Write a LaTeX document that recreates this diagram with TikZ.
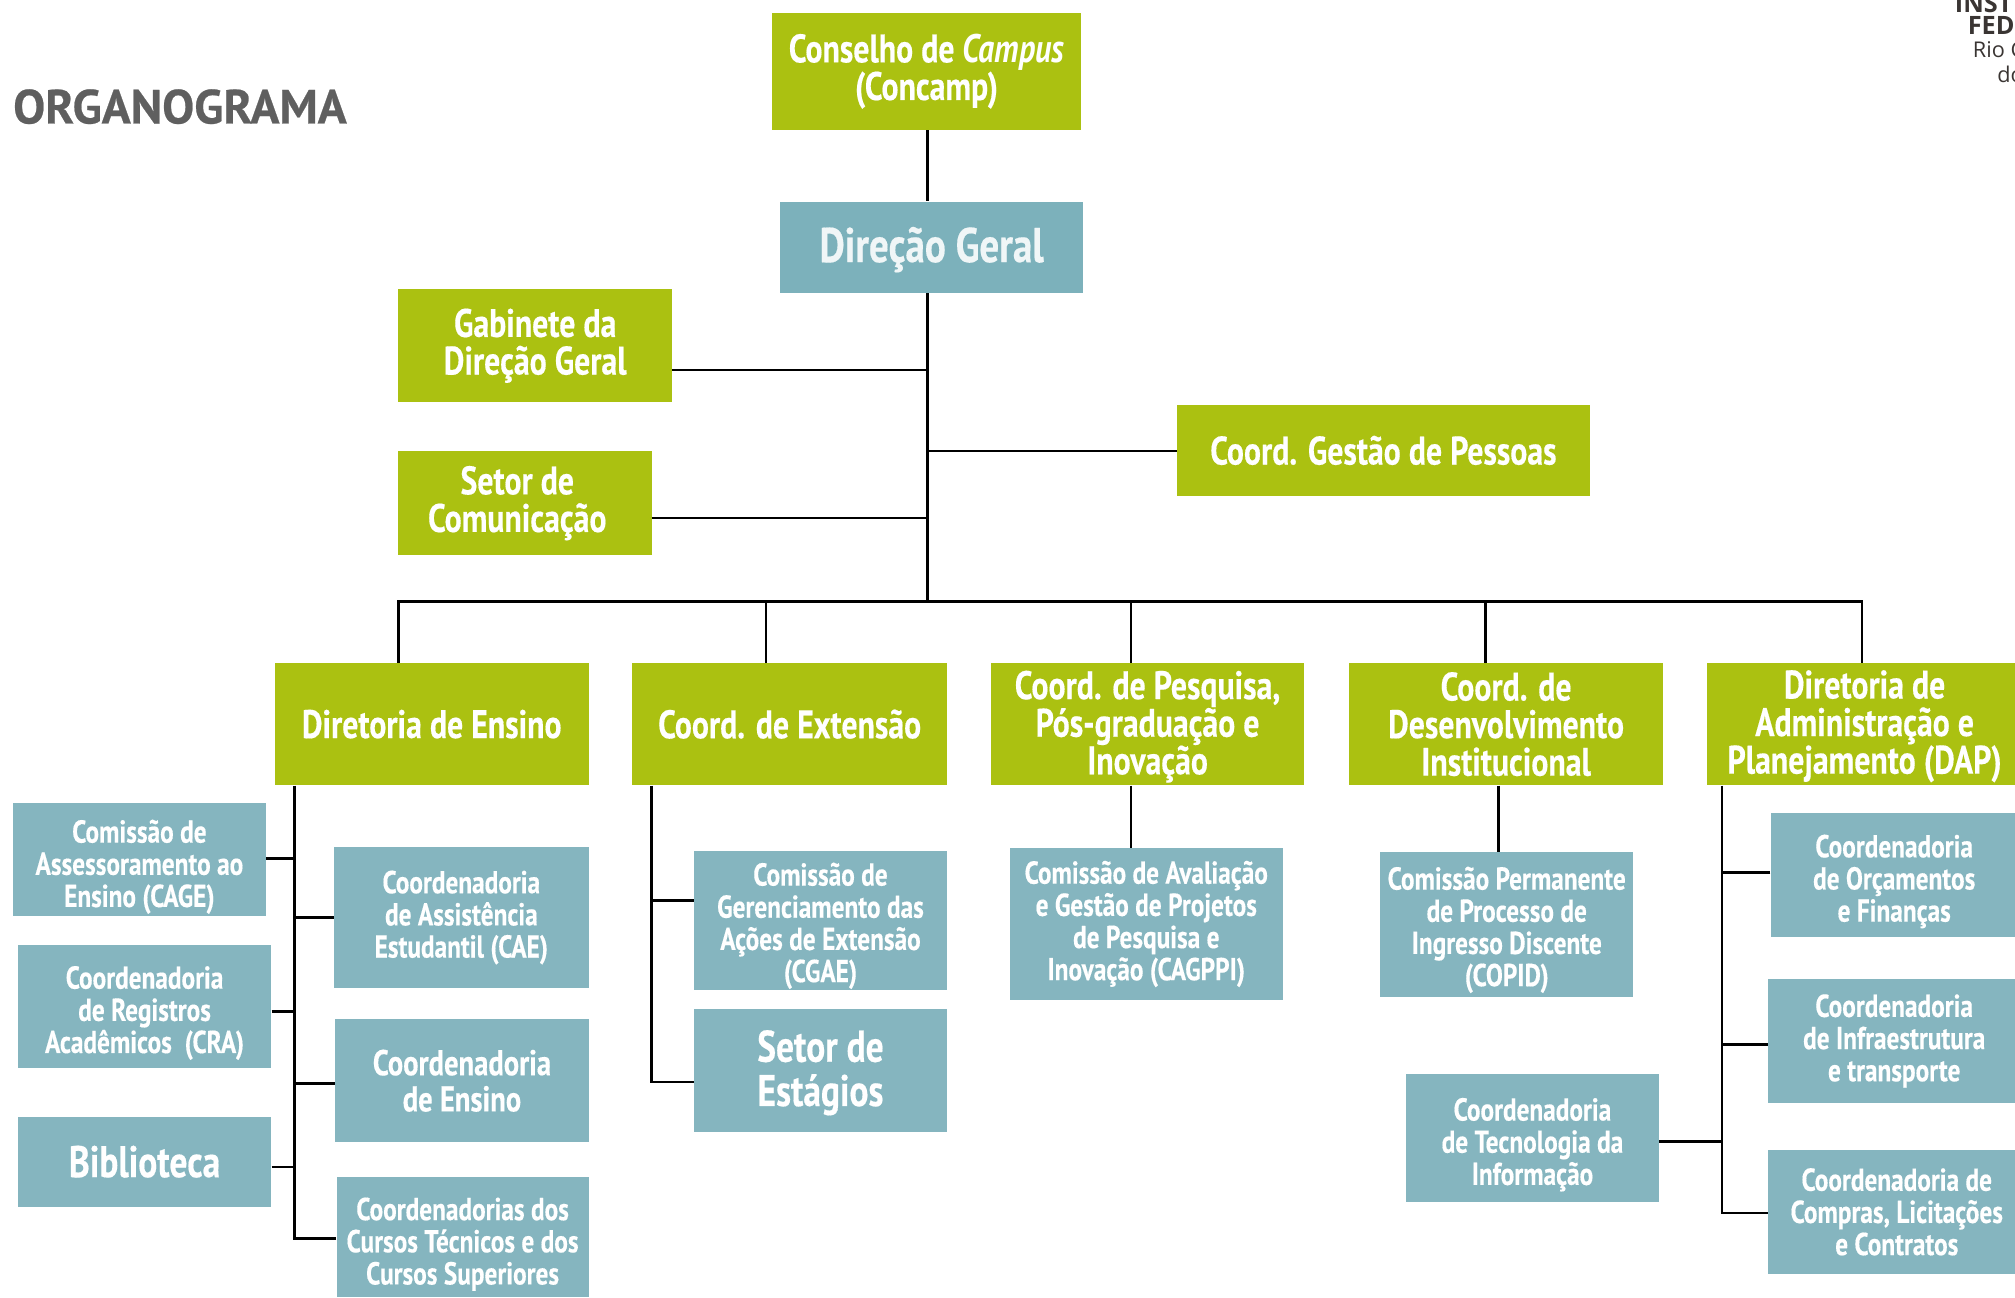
\documentclass[tikz,border=0pt]{standalone}
\usepackage{fontspec}
\setmainfont[FakeStretch=0.8, BoldFeatures={FakeBold=0.35}]{PT Sans}
\newfontfamily\titlefont[BoldFeatures={FakeBold=0.5}]{PT Sans}
\newfontfamily\logofont{Open Sans}
\definecolor{orgGreen}{HTML}{ABC111}
\definecolor{orgBlue}{HTML}{85B5BF}
\definecolor{orgBlueDark}{HTML}{7CB1BB}
\definecolor{orgGray}{HTML}{5F5F5F}
\definecolor{orgInk}{HTML}{3A3533}
\newcommand{\lowline}[1]{\rule{0pt}{#1}}
\tikzset{
    boxsize/.style 2 args={minimum width=#1*0.025cm, minimum height=#2*0.025cm},
    orgbox/.style={rectangle, inner sep=0pt, align=center, text=white, font=\bfseries},
    greenbox/.style={orgbox, fill=orgGreen, font=\bfseries\fontsize{22}{20.8}\selectfont},
    bluebox/.style={orgbox, fill=orgBlue, font=\bfseries\fontsize{17.5}{17.8}\selectfont},
    midtext/.style={font=\bfseries\fontsize{19.8}{20}\selectfont},
    bigtext/.style={font=\bfseries\fontsize{24.5}{24.5}\selectfont},
    logotext/.style={anchor=west, text=orgInk, inner sep=0pt},
    link/.style={black, line width=1.5pt},
}
\begin{document}
\begin{tikzpicture}[x=0.025cm, y=-0.025cm]
            \useasboundingbox (0, 0) rectangle (1568, 1009.3);
            \node [anchor=west, inner sep=0pt, text=orgGray, font=\titlefont\bfseries\fontsize{26.5}{27}\selectfont] (titulo) at (10, 83) {ORGANOGRAMA};
            \node [logotext, font=\logofont\bfseries\fontsize{14}{14}\selectfont] (logoa) at (1521, 3) {INST};
            \node [logotext, font=\logofont\bfseries\fontsize{14}{14}\selectfont] (logob) at (1531, 20) {FED};
            \node [logotext, font=\logofont\fontsize{12}{12}\selectfont] (logoc) at (1535, 39) {Rio G};
            \node [logotext, font=\logofont\fontsize{12}{12}\selectfont] (logod) at (1554, 58) {do};

            \node [greenbox, boxsize={240}{91}] (conselho) at (721, 55.5) {Conselho de \textit{Campus}\\(Concamp)};
            \node [orgbox, fill=orgBlueDark, boxsize={236}{71}, text=white!88!orgBlue, font=\bfseries\fontsize{27}{27}\selectfont, execute at begin node={\lowline{22pt}}] (direcao) at (725, 192.5) {Direção Geral};
            \node [greenbox, boxsize={213}{88}] (gabinete) at (416.5, 269) {Gabinete da\\Direção Geral};
            \node [greenbox, boxsize={197}{81}] (comunicacao) at (408.5, 391.5) {Setor de\hspace*{8.5pt}\\Comunicação\hspace*{8.5pt}};
            \node [greenbox, boxsize={321}{71}] (pessoas) at (1076.5, 350.5) {Coord. Gestão de Pessoas};

            \node [greenbox, boxsize={244}{95}] (ensino) at (336, 563.5) {Diretoria de Ensino};
            \node [greenbox, boxsize={245}{95}] (extensao) at (614.5, 563.5) {Coord. de Extensão};
            \node [greenbox, boxsize={244}{95}] (pesquisa) at (893, 563.5) {\lowline{18.5pt}Coord. de Pesquisa,\\Pós-graduação e\\Inovação};
            \node [greenbox, boxsize={244}{95}] (desenv) at (1172, 563.5) {Coord. de\\Desenvolvimento\\Institucional};
            \node [greenbox, boxsize={246}{95}] (dap) at (1451, 563.5) {\lowline{18pt}Diretoria de\\Administração e\\Planejamento (DAP)};

            \node [bluebox, boxsize={197}{88}] (cage) at (108.5, 669) {\lowline{20.5pt}Comissão de\\Assessoramento ao\\Ensino (CAGE)};
            \node [bluebox, boxsize={197}{96}] (cra) at (112.5, 783) {\lowline{20pt}Coordenadoria\\de Registros\\Acadêmicos\ \ (CRA)};
            \node [bluebox, bigtext, boxsize={197}{70}] (biblioteca) at (112.5, 904) {Biblioteca};
            \node [bluebox, boxsize={198}{110}] (cae) at (359, 714) {Coordenadoria\\de Assistência\\Estudantil (CAE)};
            \node [bluebox, midtext, boxsize={197}{96}] (coordensino) at (359.5, 841) {Coordenadoria\\de Ensino};
            \node [bluebox, boxsize={196}{93}] (cursos) at (360, 962.5) {\lowline{20.5pt}Coordenadorias dos\\Cursos Técnicos e dos\\Cursos Superiores};

            \node [bluebox, boxsize={197}{108}] (cgae) at (638.5, 716) {\lowline{19pt}Comissão de\\Gerenciamento das\\Ações de Extensão\\(CGAE)};
            \node [bluebox, bigtext, boxsize={197}{96}] (estagios) at (638.5, 833) {\lowline{20pt}Setor de\\Estágios};
            \node [bluebox, boxsize={212}{118}] (cagppi) at (892, 719) {Comissão de Avaliação\\e Gestão de Projetos\\de Pesquisa e\\Inovação (CAGPPI)};
            \node [bluebox, boxsize={197}{113}] (copid) at (1172.5, 719.5) {\lowline{18.5pt}Comissão Permanente\\de Processo de\\Ingresso Discente\\(COPID)};
            \node [bluebox, boxsize={197}{99}] (cti) at (1192.5, 885.5) {\lowline{20pt}Coordenadoria\\de Tecnologia da\\Informação};
            \node [bluebox, boxsize={192}{96}] (orcamentos) at (1474, 681) {\lowline{19.5pt}Coordenadoria\\de Orçamentos\\e Finanças};
            \node [bluebox, boxsize={196}{96}] (infra) at (1474, 810) {Coordenadoria\\de Infraestrutura\\e transporte};
            \node [bluebox, boxsize={200}{96}] (compras) at (1476, 943) {Coordenadoria de\\Compras, Licitações\\e Contratos};

            \coordinate (hub) at (722, 468);
            \coordinate (gabjoin) at (722, 288);
            \coordinate (pesjoin) at (722, 351);
            \coordinate (comjoin) at (722, 403);
            \coordinate (busensino) at (310, 468);
            \coordinate (busextensao) at (596, 468);
            \coordinate (buspesquisa) at (880, 468);
            \coordinate (busdesenv) at (1156, 468);
            \coordinate (busdap) at (1449, 468);
            \coordinate (stemensino) at (229, 964);
            \coordinate (stemextensao) at (507, 842);
            \coordinate (stemdap) at (1340, 944);

            \draw [link] (conselho.south -| hub) -- (direcao.north -| hub);
            \draw [link] (direcao.south -| hub) -- (hub);
            \draw [link] (gabinete.east |- gabjoin) -- (gabjoin);
            \draw [link] (pessoas.west |- pesjoin) -- (pesjoin);
            \draw [link] (comunicacao.east |- comjoin) -- (comjoin);
            \draw [link, line cap=rect] (busensino) -- (busdap);
            \draw [link] (busensino) -- (busensino |- ensino.north);
            \draw [link] (busextensao) -- (busextensao |- extensao.north);
            \draw [link] (buspesquisa) -- (buspesquisa |- pesquisa.north);
            \draw [link] (busdesenv) -- (busdesenv |- desenv.north);
            \draw [link] (busdap) -- (busdap |- dap.north);

            \draw [link] (stemensino |- ensino.south) -- (stemensino) -- (stemensino -| cursos.west);
            \draw [link] (cage.east |- 0, 668) -- (stemensino |- 0, 668);
            \draw [link] (cae.west) -- (stemensino |- cae.west);
            \draw [link] (cra.east |- 0, 787) -- (stemensino |- 0, 787);
            \draw [link] (coordensino.west |- 0, 843) -- (stemensino |- 0, 843);
            \draw [link] (biblioteca.east |- 0, 908) -- (stemensino |- 0, 908);

            \draw [link] (stemextensao |- extensao.south) -- (stemextensao) -- (stemextensao -| estagios.west);
            \draw [link] (cgae.west |- 0, 701) -- (stemextensao |- 0, 701);

            \draw [link] (pesquisa.south -| buspesquisa) -- (cagppi.north -| buspesquisa);
            \draw [link] (desenv.south -| 1166, 0) -- (copid.north -| 1166, 0);

            \draw [link] (stemdap |- dap.south) -- (stemdap) -- (stemdap -| compras.west);
            \draw [link] (orcamentos.west |- 0, 679) -- (stemdap |- 0, 679);
            \draw [link] (infra.west |- 0, 813) -- (stemdap |- 0, 813);
            \draw [link] (cti.east |- 0, 888) -- (stemdap |- 0, 888);
        \end{tikzpicture}
\end{document}
